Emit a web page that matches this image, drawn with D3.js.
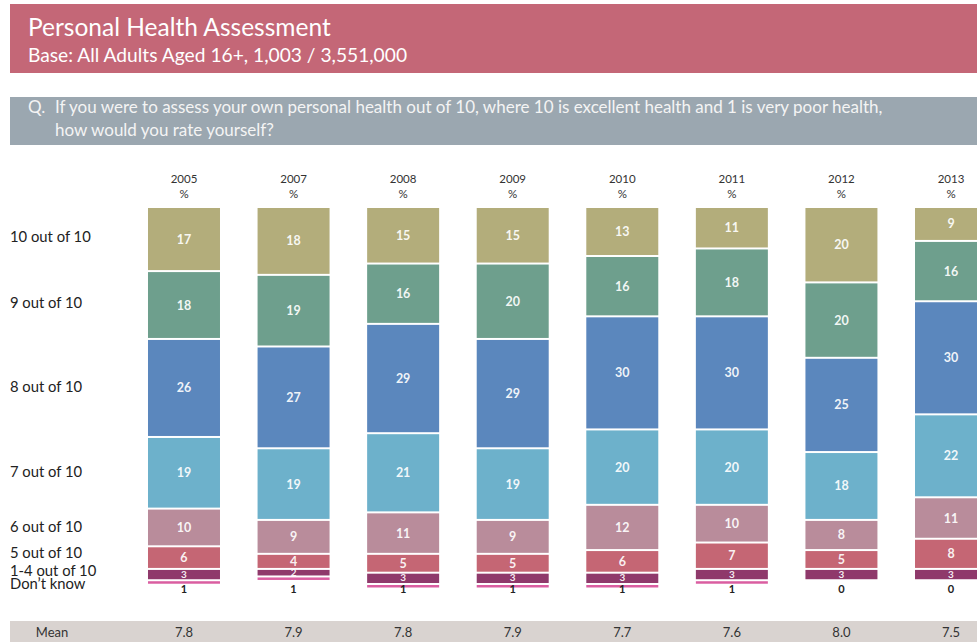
<!DOCTYPE html>
<html><head><meta charset="utf-8">
<script src="https://cdn.jsdelivr.net/npm/d3@7"></script>
<style>
html,body{margin:0;padding:0;background:#fff;}
svg{display:block;font-family:Lato,"Noto Sans",sans-serif;}
</style></head>
<body>
<svg id="chart" width="977" height="642"></svg>
<script>
const years = ["2005","2007","2008","2009","2010","2011","2012","2013"];
const categories = ["10 out of 10","9 out of 10","8 out of 10","7 out of 10","6 out of 10","5 out of 10","1-4 out of 10","Don\u2019t know"];
const s10  = [17,18,15,15,13,11,20,9];
const s9   = [18,19,16,20,16,18,20,16];
const s8   = [26,27,29,29,30,30,25,30];
const s7   = [19,19,21,19,20,20,18,22];
const s6   = [10,9,11,9,12,10,8,11];
const s5   = [6,4,5,5,6,7,5,8];
const s14  = [3,2,3,3,3,3,3,3];
const sDK  = [1,1,1,1,1,1,0,0];
const means = ["7.8","7.9","7.8","7.9","7.7","7.6","8.0","7.5"];
const colors = ["#b3ad7b","#6e9f8d","#5b87bd","#6db1cb","#b98c9b","#c56674","#8f396b","#da5ea1"];

const series = [s10,s9,s8,s7,s6,s5,s14,sDK];
const svg = d3.select("#chart");

// Header band
svg.append("rect").attr("x",10).attr("y",4).attr("width",967).attr("height",69).attr("fill","#c46777");
svg.append("text").attr("x",28).attr("y",36).attr("fill","#fff").attr("font-size",24.5).text("Personal Health Assessment");
svg.append("text").attr("x",28).attr("y",62).attr("fill","#fff").attr("font-size",19.2).text("Base: All Adults Aged 16+, 1,003 / 3,551,000");

// Question band
svg.append("rect").attr("x",10).attr("y",97).attr("width",967).attr("height",48).attr("fill","#9ba7b0");
svg.append("text").attr("x",28).attr("y",113).attr("fill","#f4f4f4").attr("font-size",17).text("Q.");
svg.append("text").attr("x",55).attr("y",113).attr("fill","#f4f4f4").attr("font-size",17)
  .text("If you were to assess your own personal health out of 10, where 10 is excellent health and 1 is very poor health,");
svg.append("text").attr("x",55).attr("y",136).attr("fill","#f4f4f4").attr("font-size",17).text("how would you rate yourself?");

// Scales
const x = d3.scaleBand().domain(years).range([129.2, 1005.8]).paddingInner(0.343).paddingOuter(0.1715);
const y = d3.scaleLinear().domain([0,100]).range([208, 585]);

// Year headers
const hdr = svg.append("g").attr("font-size",11.5).attr("fill","#333").attr("text-anchor","middle");
years.forEach(yr => {
  const cx = x(yr) + x.bandwidth()/2;
  hdr.append("text").attr("x",cx).attr("y",183).text(yr);
  hdr.append("text").attr("x",cx).attr("y",198).text("%");
});

// Stacked segments
const gap = 2;
years.forEach((yr, i) => {
  let cum = 0;
  const cx = x(yr) + x.bandwidth()/2;
  series.forEach((s, k) => {
    const v = s[i];
    const y0 = y(cum), y1 = y(cum + v);
    cum += v;
    if (v > 0) {
      const h = Math.max(y1 - y0 - gap, 2.5);
      svg.append("rect").attr("x", x(yr)).attr("y", y0).attr("width", x.bandwidth()).attr("height", h)
        .attr("fill", colors[k]);
    }
    if (k < 7) {
      if (v > 0) {
        const small = v < 4;
        svg.append("text").attr("x", cx).attr("y", (y0 + y1 - gap)/2).attr("dy", small ? "0.3em" : "0.36em")
          .attr("text-anchor","middle").attr("font-size", small ? 10 : 12.5).attr("font-weight","bold")
          .attr("fill","#fff").attr("fill-opacity",0.92).text(v);
      }
    } else {
      svg.append("text").attr("x", cx).attr("y", 593)
        .attr("text-anchor","middle").attr("font-size",11).attr("font-weight","bold")
        .attr("fill","#222").text(v);
    }
  });
});

// Row labels
const rowY = [242, 308, 392, 477, 532, 558, 576, 589];
const rl = svg.append("g").attr("font-size",14.8).attr("fill","#222");
categories.forEach((c, k) => rl.append("text").attr("x",10).attr("y",rowY[k]).text(c));

// Mean row
svg.append("rect").attr("x",10).attr("y",621).attr("width",967).attr("height",21).attr("fill","#d9d3d0");
svg.append("text").attr("x",52).attr("y",637).attr("text-anchor","middle").attr("font-size",13).attr("fill","#333").text("Mean");
years.forEach((yr, i) => {
  svg.append("text").attr("x", x(yr) + x.bandwidth()/2).attr("y",637).attr("text-anchor","middle")
    .attr("font-size",13).attr("fill","#333").text(means[i]);
});
</script>
</body></html>
